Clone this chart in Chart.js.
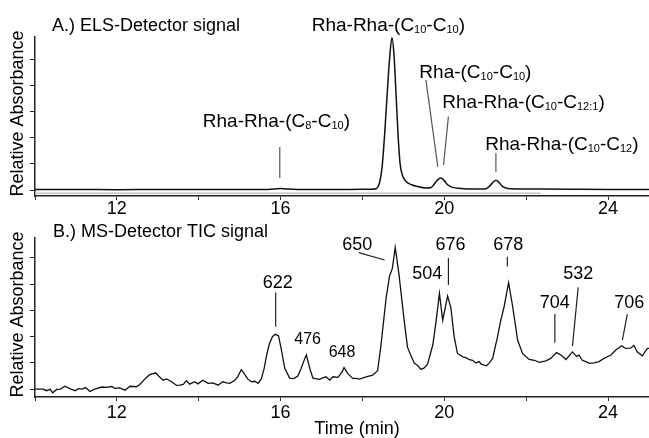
<!DOCTYPE html>
<html>
<head>
<meta charset="utf-8">
<script src="https://cdn.jsdelivr.net/npm/chart.js@4.4.1/dist/chart.umd.min.js"></script>
<style>
  html, body { margin: 0; padding: 0; background: #fff; }
  #wrap { position: relative; width: 649px; height: 438px; }
  canvas { position: absolute; left: 0; }
</style>
</head>
<body>
<div id="wrap">
  <canvas id="els" width="649" height="218" style="top:0"></canvas>
  <canvas id="ms" width="649" height="220" style="top:218px"></canvas>
</div>
<script>
// axis ticks (minutes) and their labels
const xTicks = [10, 12, 14, 16, 18, 20, 22, 24];
const xTickLabels = ['', '12', '', '16', '', '20', '', '24'];
const yTicks = [0, 1, 2, 3, 4, 5];

// A.) ELS detector trace
const elsTime = [10.0, 11.0, 12.0, 13.0, 14.0, 15.0, 15.7, 15.9, 16.0, 16.15, 16.4, 17.0, 17.6, 18.2, 18.33,
  18.42, 18.48, 18.54, 18.6, 18.66, 18.72, 18.77, 18.82, 18.87, 18.92, 18.98, 19.07, 19.2, 19.35, 19.55,
  19.68, 19.75, 19.83, 19.92, 20.0, 20.08, 20.2, 20.4, 20.8, 21.02, 21.12, 21.2, 21.26, 21.33, 21.42,
  21.55, 22.0, 23.0, 24.0, 25.0];
const elsSignal = [0.02, 0.02, 0.01, 0.02, 0.02, 0.02, 0.02, 0.05, 0.06, 0.04, 0.02, 0.02, 0.02, 0.03, 0.05,
  0.3, 0.9, 2.1, 3.6, 5.0, 5.85, 5.2, 3.7, 2.1, 1.0, 0.55, 0.32, 0.2, 0.13, 0.08,
  0.1, 0.22, 0.38, 0.46, 0.36, 0.2, 0.1, 0.06, 0.04, 0.05, 0.17, 0.32, 0.38, 0.3, 0.14,
  0.06, 0.04, 0.03, 0.02, 0.02];
// faint grey trace lying just under the ELS baseline
const elsGreyTime = [10.0, 22.35];
const elsGreySignal = [-0.12, -0.12];

// B.) MS detector TIC trace
const ticTime = [10.0, 10.2, 10.28, 10.37, 10.43, 10.53, 10.62, 10.73, 10.85, 10.98, 11.06, 11.14, 11.24, 11.34,
  11.46, 11.63, 11.75, 11.87, 11.95, 12.07, 12.2, 12.32, 12.48, 12.56, 12.68, 12.8, 12.95, 13.0, 13.13,
  13.21, 13.33, 13.46, 13.54, 13.62, 13.7, 13.78, 13.9, 13.98, 14.1, 14.23, 14.35, 14.47, 14.59, 14.68,
  14.76, 14.88, 14.95, 15.04, 15.12, 15.2, 15.29, 15.37, 15.45, 15.53, 15.6, 15.65, 15.72, 15.8, 15.87,
  15.95, 16.02, 16.1, 16.22, 16.32, 16.42, 16.5, 16.6, 16.63, 16.72, 16.79, 16.95, 17.05, 17.11, 17.2,
  17.28, 17.4, 17.5, 17.55, 17.64, 17.76, 17.85, 17.93, 18.09, 18.25, 18.37, 18.45, 18.58, 18.66, 18.73,
  18.8, 18.89, 19.02, 19.1, 19.19, 19.27, 19.35, 19.43, 19.5, 19.59, 19.72, 19.8, 19.88, 19.96, 20.08,
  20.16, 20.24, 20.32, 20.45, 20.53, 20.61, 20.69, 20.77, 20.85, 20.9, 21.03, 21.1, 21.18, 21.3, 21.38,
  21.46, 21.57, 21.67, 21.79, 21.91, 22.07, 22.2, 22.32, 22.48, 22.6, 22.74, 22.85, 22.97, 23.13, 23.23,
  23.29, 23.37, 23.46, 23.54, 23.66, 23.78, 23.9, 24.07, 24.19, 24.33, 24.43, 24.55, 24.63, 24.71, 24.84,
  24.96, 25.0];
const ticSignal = [0.0, 0.0, -0.06, -0.01, -0.14, -0.01, 0.0, 0.11, 0.02, -0.06, 0.02, 0.0, 0.06, -0.09,
  0.0, 0.08, 0.07, 0.1, 0.03, 0.05, -0.04, 0.11, 0.09, 0.18, 0.38, 0.55, 0.62, 0.53, 0.34,
  0.39, 0.29, 0.14, 0.15, 0.18, 0.32, 0.19, 0.28, 0.2, 0.34, 0.22, 0.24, 0.15, 0.28, 0.24,
  0.22, 0.34, 0.47, 0.74, 0.57, 0.38, 0.28, 0.3, 0.22, 0.4, 0.8, 1.23, 1.7, 2.0, 2.09,
  2.03, 1.5, 0.8, 0.42, 0.4, 0.5, 0.79, 1.2, 1.3, 0.75, 0.42, 0.37, 0.44, 0.47, 0.34,
  0.47, 0.45, 0.65, 0.82, 0.6, 0.41, 0.41, 0.38, 0.47, 0.53, 0.7, 1.65, 3.5, 4.3, 4.6,
  5.4, 4.4, 2.6, 1.6, 1.25, 0.98, 0.9, 0.75, 0.8, 0.95, 1.7, 2.6, 3.65, 2.63, 3.55,
  3.1, 2.0, 1.36, 1.23, 1.2, 1.12, 1.1, 1.0, 1.05, 0.95, 0.89, 1.0, 1.17, 2.0, 2.63,
  3.14, 4.06, 3.14, 1.87, 1.36, 1.13, 1.1, 1.02, 1.08, 1.17, 1.39, 1.3, 1.13, 1.42, 1.25,
  1.3, 1.1, 1.05, 0.98, 1.0, 1.05, 1.17, 1.3, 1.49, 1.65, 1.55, 1.56, 1.66, 1.42, 1.27,
  1.55, 1.55];

// peak labels, placed in data units (time, signal)
const elsLabels = [
  { text: 'Rha-Rha-(C_{10}-C_{10})', x: 16.76, y: 6.12 },
  { text: 'Rha-(C_{10}-C_{10})', x: 19.39, y: 4.31 },
  { text: 'Rha-Rha-(C_{10}-C_{12:1})', x: 19.95, y: 3.15 },
  { text: 'Rha-Rha-(C_{10}-C_{12})', x: 21.0, y: 1.54 },
  { text: 'Rha-Rha-(C_{8}-C_{10})', x: 14.1, y: 2.42 }
];
const elsLeaders = [
  [15.98, 1.65, 15.98, 0.46],
  [19.55, 4.23, 19.84, 0.9],
  [20.1, 2.82, 19.98, 0.96],
  [21.26, 1.41, 21.26, 0.7]
];
const ticLabels = [
  { text: '622', x: 15.93, y: 3.85 },
  { text: '476', x: 16.66, y: 1.72, small: true },
  { text: '648', x: 17.5, y: 1.22, small: true },
  { text: '650', x: 17.87, y: 5.31 },
  { text: '504', x: 19.58, y: 4.2 },
  { text: '676', x: 20.15, y: 5.31 },
  { text: '678', x: 21.56, y: 5.31 },
  { text: '532', x: 23.27, y: 4.2 },
  { text: '704', x: 22.7, y: 3.09 },
  { text: '706', x: 24.52, y: 3.09 }
];
const ticLeaders = [
  [15.88, 3.68, 15.88, 2.38],
  [17.91, 5.2, 18.54, 4.92],
  [20.1, 5.0, 20.1, 3.97],
  [21.54, 5.05, 21.54, 4.67],
  [23.27, 3.88, 23.13, 1.64],
  [22.7, 2.86, 22.7, 1.77],
  [24.47, 2.86, 24.35, 1.87]
];

const FONT = "'Liberation Sans', Arial, sans-serif";

// split "C_{10}" style text into normal / subscript pieces
function splitSub(s) {
  const out = [];
  const re = /_\{([^}]*)\}/g;
  let last = 0, m;
  while ((m = re.exec(s))) {
    if (m.index > last) out.push([s.slice(last, m.index), false]);
    out.push([m[1], true]);
    last = re.lastIndex;
  }
  if (last < s.length) out.push([s.slice(last), false]);
  return out;
}

function drawRich(ctx, s, x, y, size, align) {
  const subSize = Math.round(size * 0.56);
  const pieces = splitSub(s);
  let w = 0;
  pieces.forEach(p => {
    ctx.font = (p[1] ? subSize : size) + 'px ' + FONT;
    w += ctx.measureText(p[0]).width;
  });
  let cx = align === 'center' ? x - w / 2 : x;
  ctx.textAlign = 'left';
  ctx.textBaseline = 'alphabetic';
  pieces.forEach(p => {
    ctx.font = (p[1] ? subSize : size) + 'px ' + FONT;
    ctx.fillText(p[0], cx, p[1] ? y + 2 : y);
    cx += ctx.measureText(p[0]).width;
  });
}

const overlay = {
  id: 'overlay',
  afterDraw(chart, args, o) {
    const { ctx, chartArea: a } = chart;
    const xs = chart.scales.x, ys = chart.scales.y;
    ctx.save();
    ctx.fillStyle = '#000';

    // panel title
    ctx.font = '18px ' + FONT;
    ctx.textAlign = 'left';
    ctx.textBaseline = 'alphabetic';
    ctx.fillText(o.title, o.titleX, o.titleY);

    // y axis title
    ctx.save();
    ctx.translate(18, (a.top + a.bottom) / 2 - 3);
    ctx.rotate(-Math.PI / 2);
    ctx.textAlign = 'center';
    ctx.textBaseline = 'middle';
    ctx.font = '18px ' + FONT;
    ctx.fillText('Relative Absorbance', 0, 0);
    ctx.restore();

    if (o.xTitle) {
      ctx.font = '18px ' + FONT;
      ctx.textAlign = 'center';
      ctx.fillText(o.xTitle, o.xTitleX, o.xTitleY);
    }

    // leader lines
    ctx.strokeStyle = o.leaderColor;
    ctx.lineWidth = 1.2;
    o.leaders.forEach(l => {
      ctx.beginPath();
      ctx.moveTo(xs.getPixelForValue(l[0]), ys.getPixelForValue(l[1]));
      ctx.lineTo(xs.getPixelForValue(l[2]), ys.getPixelForValue(l[3]));
      ctx.stroke();
    });

    // peak labels
    o.labels.forEach(l => {
      const size = l.small ? 16 : o.labelSize;
      drawRich(ctx, l.text, xs.getPixelForValue(l.x), ys.getPixelForValue(l.y), size, o.labelAlign);
    });
    ctx.restore();
  }
};

function toPoints(xs, ys) {
  return xs.map((x, i) => ({ x: x, y: ys[i] }));
}

function makeChart(id, cfg) {
  return new Chart(document.getElementById(id), {
    type: 'line',
    data: { datasets: cfg.datasets },
    options: {
      responsive: false,
      animation: false,
      devicePixelRatio: 1,
      layout: { padding: { top: cfg.top, left: 0, right: 0, bottom: 0 } },
      elements: { point: { radius: 0 } },
      plugins: {
        legend: { display: false },
        tooltip: { enabled: false },
        overlay: cfg.overlay
      },
      scales: {
        x: {
          type: 'linear',
          min: 10,
          max: 25,
          afterBuildTicks: s => { s.ticks = xTicks.map(v => ({ value: v })); },
          afterFit: s => { s.height = cfg.xHeight; },
          ticks: {
            autoSkip: false,
            maxRotation: 0,
            padding: cfg.tickPad,
            color: '#000',
            font: { family: FONT, size: 18 },
            callback: (v, i) => xTickLabels[i]
          },
          grid: { drawOnChartArea: false, drawTicks: true, tickLength: 4, color: '#333', lineWidth: 1 },
          border: { display: true, color: '#222', width: 1.5 }
        },
        y: {
          min: cfg.yMin,
          max: cfg.yMax,
          afterBuildTicks: s => { s.ticks = yTicks.map(v => ({ value: v })); },
          afterFit: s => { s.width = 35; },
          ticks: { display: false },
          grid: { drawOnChartArea: false, drawTicks: true, tickLength: 5, color: '#222', lineWidth: 1 },
          border: { display: true, color: '#222', width: 1.5 }
        }
      }
    },
    plugins: [overlay]
  });
}

makeChart('els', {
  top: 37,
  xHeight: 22,
  tickPad: -2,
  yMin: -0.23,
  yMax: 5.88,
  datasets: [
    { data: toPoints(elsGreyTime, elsGreySignal), borderColor: '#c4c4c4', borderWidth: 1.5, tension: 0 },
    { data: toPoints(elsTime, elsSignal), borderColor: '#111', borderWidth: 1.5, cubicInterpolationMode: 'monotone' }
  ],
  overlay: {
    title: 'A.) ELS-Detector signal', titleX: 52, titleY: 31,
    labels: elsLabels, leaders: elsLeaders, leaderColor: '#555', labelSize: 19, labelAlign: 'left'
  }
});

makeChart('ms', {
  top: 20,
  xHeight: 41,
  tickPad: 1,
  yMin: -0.3,
  yMax: 5.76,
  datasets: [
    { data: toPoints(ticTime, ticSignal), borderColor: '#111', borderWidth: 1.3, tension: 0 }
  ],
  overlay: {
    title: 'B.) MS-Detector TIC signal', titleX: 53, titleY: 19,
    xTitle: 'Time (min)', xTitleX: 357, xTitleY: 216,
    labels: ticLabels, leaders: ticLeaders, leaderColor: '#222', labelSize: 18, labelAlign: 'center'
  }
});
</script>
</body>
</html>
